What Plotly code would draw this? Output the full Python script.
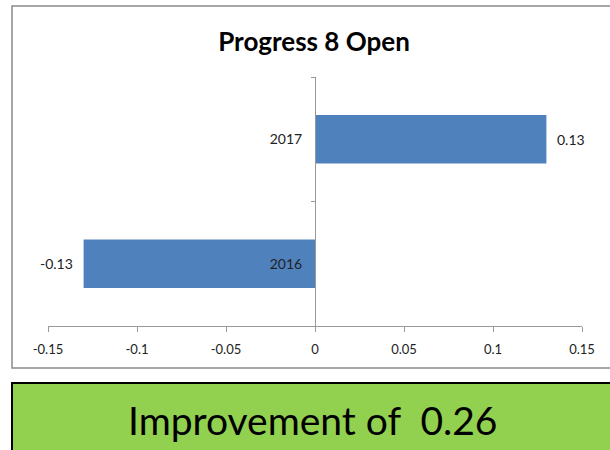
import plotly.graph_objects as go

categories = ["2016", "2017"]
values = [-0.13, 0.13]
x_ticks = [-0.15, -0.1, -0.05, 0, 0.05, 0.1, 0.15]
x_tick_labels = ["-0.15", "-0.1", "-0.05", "0", "0.05", "0.1", "0.15"]
title_text = "Progress 8 Open"
improvement = round(values[1] - values[0], 2)

FONT = "Lato"
W, H = 610, 450
L, R, T, B = 48, 28, 77, 124
pw, ph = W - L - R, H - T - B

def px(x):
    return (x - L) / pw

def py(y):
    return (H - B - y) / ph

fig = go.Figure()
fig.add_trace(go.Bar(
    x=values, y=categories, orientation="h",
    marker=dict(color="#4F81BD", line=dict(color="#4F81BD", width=0)),
    cliponaxis=False, width=0.39, hoverinfo="skip",
))

annotations = []
for i, v in enumerate(values):
    annotations.append(dict(
        x=v, y=i, xref="x", yref="y", text=f"{v:g}", showarrow=False,
        xanchor="left" if v >= 0 else "right", yanchor="middle",
        xshift=9 if v >= 0 else -9,
        font=dict(family=FONT, size=14, color="#222"),
    ))
annotations.append(dict(
    text=f"Improvement of  {improvement:g}", xref="paper", yref="paper",
    x=px(313), y=py(420), xanchor="center", yanchor="middle",
    showarrow=False, font=dict(family=FONT, size=39, color="black"),
))

fig.update_layout(
    width=W, height=H,
    margin=dict(l=L, r=R, t=T, b=B),
    paper_bgcolor="white", plot_bgcolor="white",
    showlegend=False,
    font=dict(family=FONT, size=13, color="#222"),
    title=dict(text=f"<b>{title_text}</b>", x=(314) / W, xanchor="center",
               y=1 - 42 / H, yanchor="middle",
               font=dict(family=FONT, size=26, color="black")),
    xaxis=dict(range=[-0.15, 0.15], tickvals=x_ticks, ticktext=x_tick_labels,
               showgrid=False, zeroline=False, showline=True, linecolor="#999",
               linewidth=1, ticks="outside", ticklen=5, tickcolor="#999",
               ticklabelstandoff=6,
               tickfont=dict(family=FONT, size=13, color="#222")),
    yaxis=dict(type="category", categoryorder="array", categoryarray=categories,
               anchor="free", position=0.5, showgrid=False, zeroline=False,
               showline=True, linecolor="#999", linewidth=1,
               ticks="outside", ticklen=4, tickcolor="#999", tickson="boundaries",
               ticklabelstandoff=10,
               tickfont=dict(family=FONT, size=14, color="#222"),
               range=[-0.5, 1.5]),
    shapes=[
        dict(type="rect", xref="paper", yref="paper",
             x0=px(12), x1=px(640), y0=py(368), y1=py(6),
             line=dict(color="#8a8a8a", width=1.5), fillcolor="rgba(0,0,0,0)",
             layer="below"),
        dict(type="rect", xref="paper", yref="paper",
             x0=px(12), x1=px(640), y0=py(470), y1=py(383),
             line=dict(color="black", width=2), fillcolor="#92D050",
             layer="below"),
    ],
    annotations=annotations,
)

fig.write_html("out.html", config={"displayModeBar": False},
               post_script="document.body.style.margin='0';")
